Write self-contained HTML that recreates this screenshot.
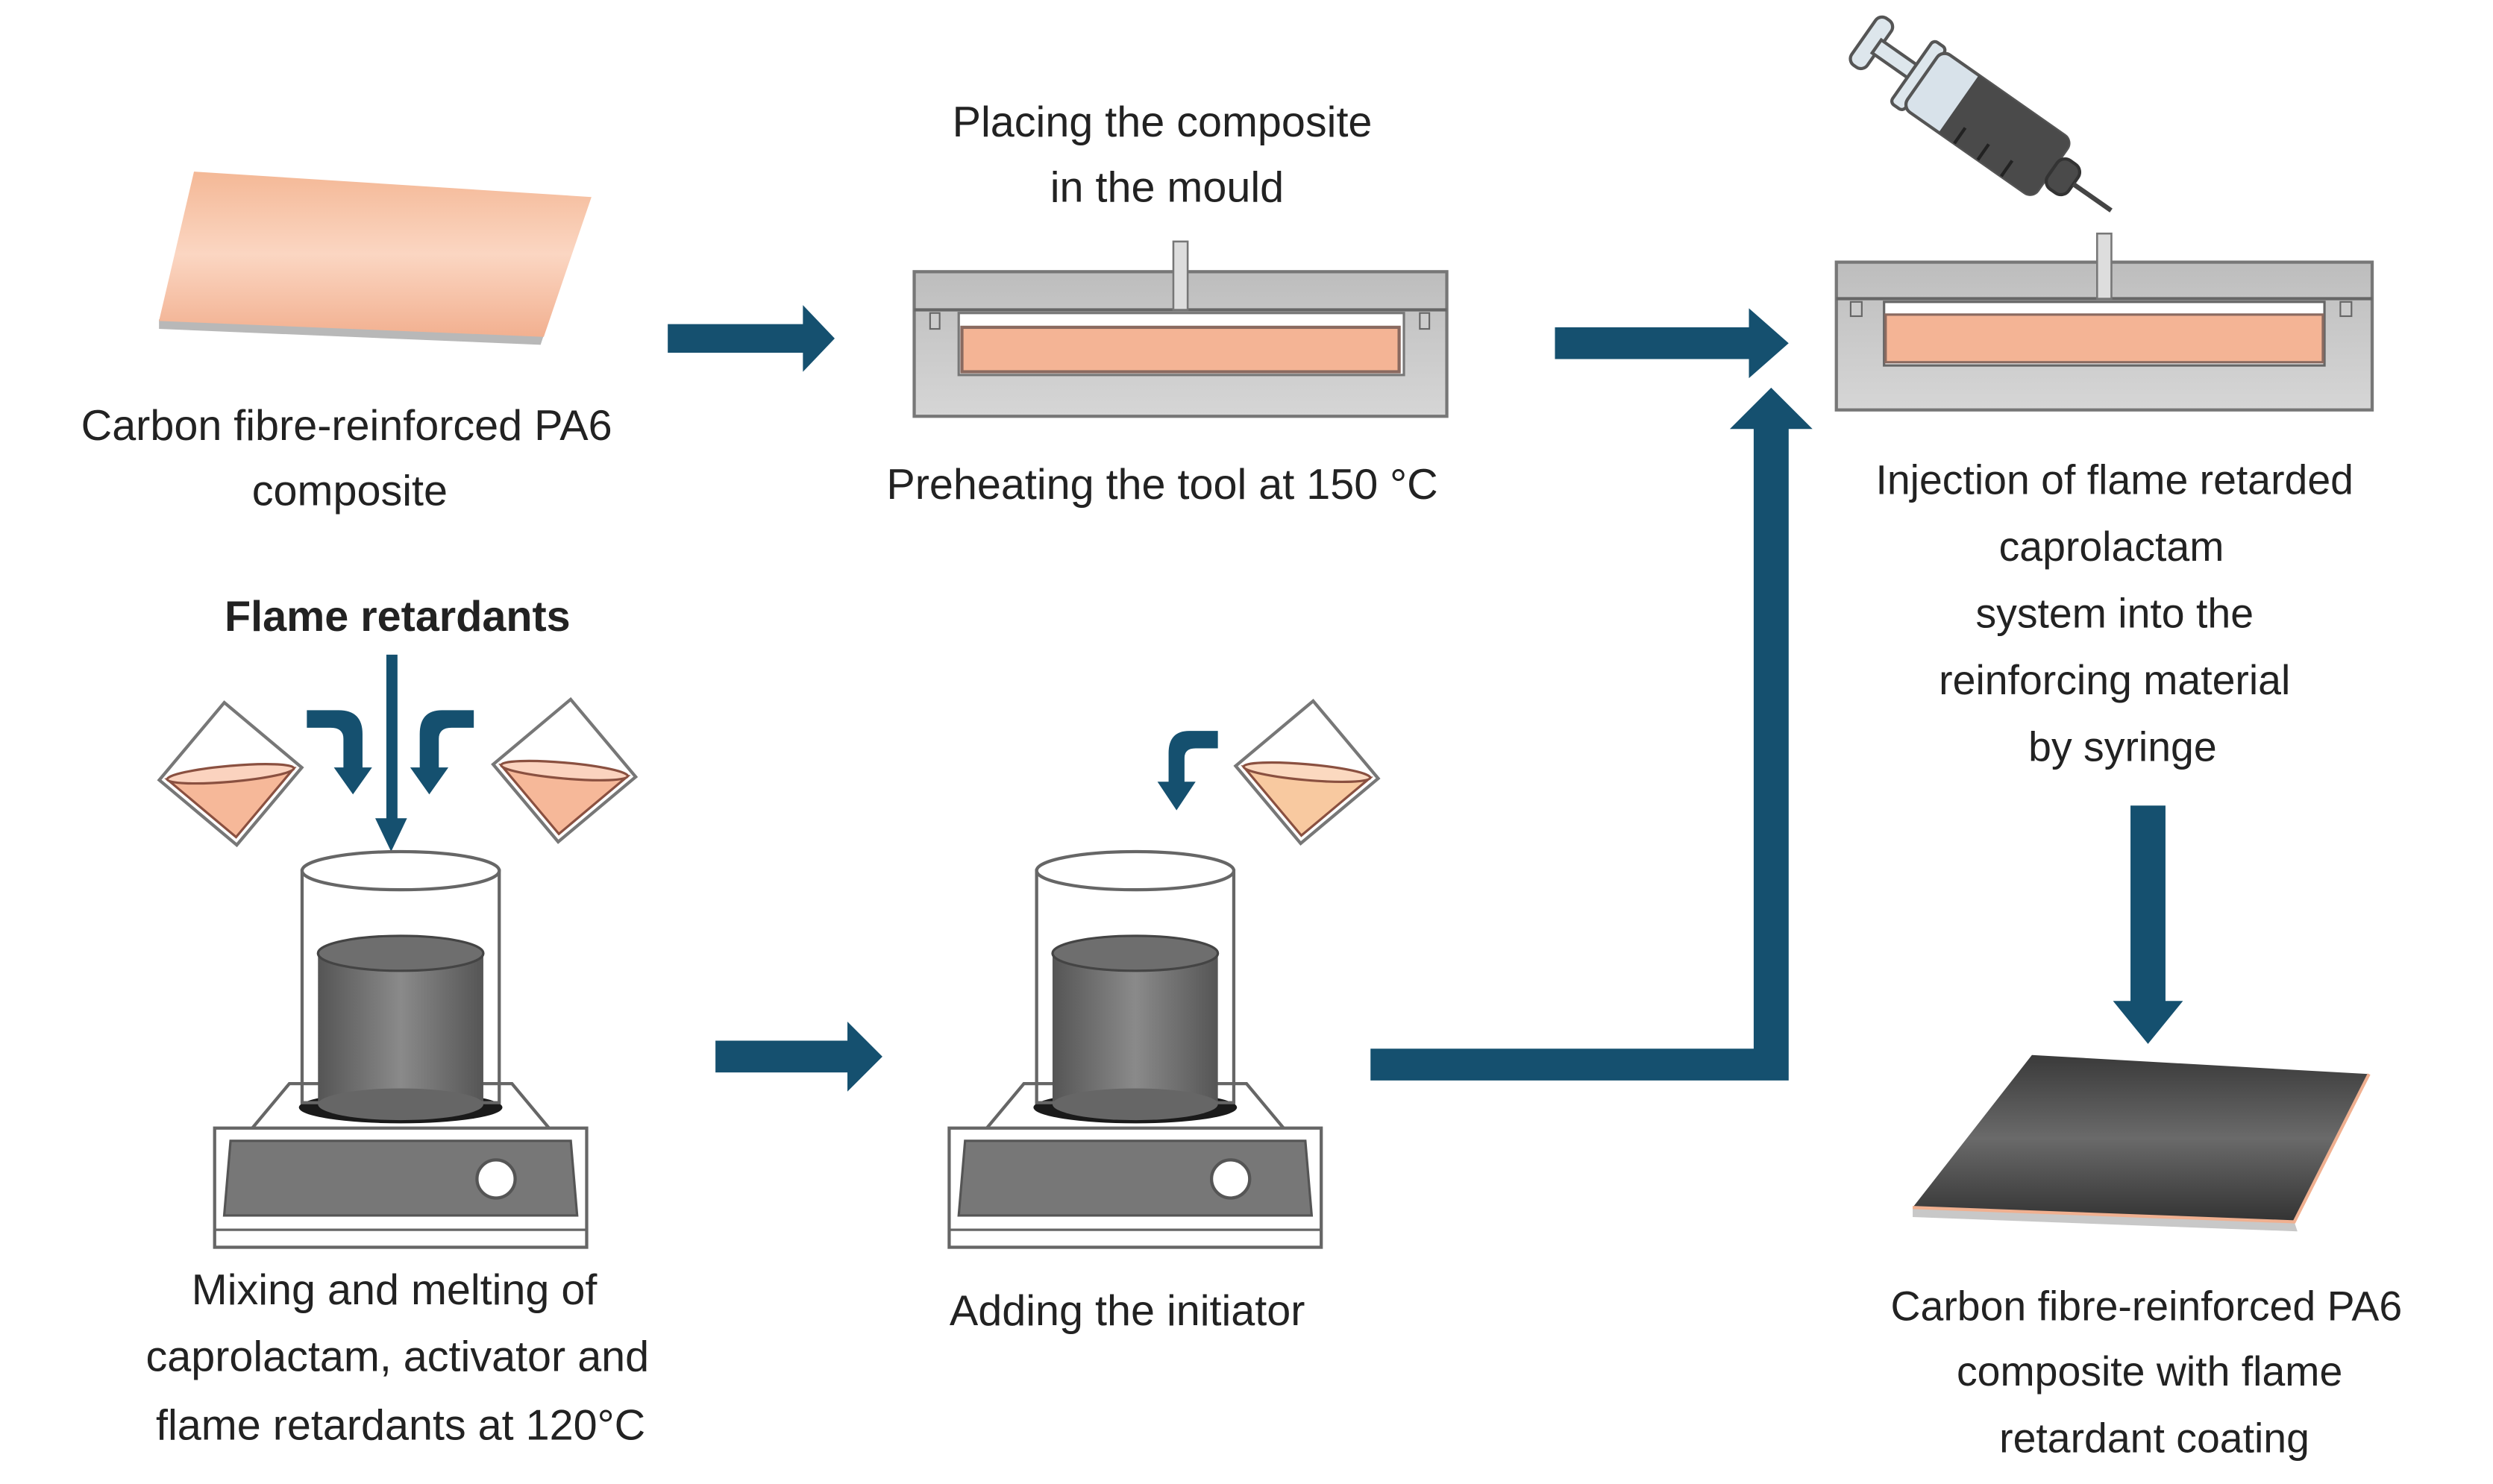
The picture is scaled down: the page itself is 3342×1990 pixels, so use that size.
<!DOCTYPE html>
<html><head><meta charset="utf-8"><style>
html,body{margin:0;padding:0;background:#fff;}
svg{display:block;}
text{font-family:"Liberation Sans",sans-serif;fill:#222;}
.n{font-size:27px;}
</style></head><body>
<svg width="3342" height="1990" viewBox="0 0 1568 934" preserveAspectRatio="none" xmlns="http://www.w3.org/2000/svg">
<defs>
<linearGradient id="pk" x1="0" y1="0" x2="0" y2="1">
<stop offset="0" stop-color="#f4b896"/><stop offset="0.5" stop-color="#fbd6c2"/><stop offset="1" stop-color="#f2b090"/></linearGradient>
<linearGradient id="cyl" x1="0" y1="0" x2="1" y2="0">
<stop offset="0" stop-color="#555"/><stop offset="0.5" stop-color="#8a8a8a"/><stop offset="1" stop-color="#555"/></linearGradient>
<linearGradient id="dk" x1="0" y1="0" x2="0" y2="1">
<stop offset="0" stop-color="#3a3a3a"/><stop offset="0.5" stop-color="#6a6a6a"/><stop offset="1" stop-color="#333"/></linearGradient>
<linearGradient id="mg" x1="0" y1="0" x2="0" y2="1">
<stop offset="0" stop-color="#bdbdbd"/><stop offset="1" stop-color="#d6d6d6"/></linearGradient>
<g id="flask">
<path d="M-45,0 L0,-45 L45,0 L0,45 Z" fill="#fff" stroke="#777" stroke-width="2"/>
<path d="M-40,0 L40,0 L0,40 Z" fill="#f6b899" stroke="#8a5040" stroke-width="1.5"/>
<ellipse cx="0" cy="0" rx="40" ry="5" fill="#fbd3bf" stroke="#8a5040" stroke-width="1.5"/>
</g>
<g id="plate">
<path d="M-95,122 L-70,92 L70,92 L95,122 Z" fill="#fff" stroke="#666" stroke-width="2"/>
<rect x="-117" y="120" width="234" height="75" fill="#fff" stroke="#666" stroke-width="2"/>
<path d="M-107,128 L107,128 L111,175 L-111,175 Z" fill="#777" stroke="#555" stroke-width="1.5"/>
<line x1="-117" y1="184" x2="117" y2="184" stroke="#666" stroke-width="1.5"/>
<circle cx="60" cy="152" r="12" fill="#fff" stroke="#555" stroke-width="2"/>
<ellipse cx="0" cy="107" rx="64" ry="10" fill="#1a1a1a"/>
<rect x="-52" y="10" width="104" height="95" fill="url(#cyl)"/>
<ellipse cx="0" cy="105" rx="52" ry="10" fill="#666"/>
<ellipse cx="0" cy="10" rx="52" ry="11" fill="#6e6e6e" stroke="#444" stroke-width="1.5"/>
<rect x="-62" y="-42" width="124" height="146" fill="none" stroke="#666" stroke-width="2"/>
<ellipse cx="0" cy="-42" rx="62" ry="12" fill="#fff" stroke="#666" stroke-width="2"/>
</g>
</defs>

<!-- pink plate -->
<path d="M100,207 L340,217 L342,211 L100,201 Z" fill="#b8b8b8"/>
<path d="M122,108 L372,124 L342,212 L100,202 Z" fill="url(#pk)"/>
<text class="n" x="218" y="277" text-anchor="middle">Carbon fibre-reinforced PA6</text>
<text class="n" x="220" y="318" text-anchor="middle">composite</text>

<!-- arrow 1 -->
<path d="M420,204 L505,204 L505,192 L525,213 L505,234 L505,222 L420,222 Z" fill="#15506f"/>

<!-- mould 1 -->
<text class="n" x="731" y="86" text-anchor="middle">Placing the composite</text>
<text class="n" x="734" y="127" text-anchor="middle">in the mould</text>
<rect x="575" y="171" width="335" height="91" fill="url(#mg)" stroke="#777" stroke-width="2"/>
<line x1="575" y1="195" x2="910" y2="195" stroke="#666" stroke-width="2"/>
<rect x="603" y="197" width="280" height="39" fill="#fff" stroke="#777" stroke-width="1.5"/>
<rect x="605" y="206" width="275" height="28" fill="#f4b495" stroke="#8a6a60" stroke-width="2"/>
<rect x="738" y="152" width="9" height="43" fill="#ddd" stroke="#777" stroke-width="1.2"/>
<rect x="585" y="197" width="6" height="10" fill="#ccc" stroke="#666"/><rect x="893" y="197" width="6" height="10" fill="#ccc" stroke="#666"/>
<text class="n" x="731" y="314" text-anchor="middle">Preheating the tool at 150 °C</text>

<!-- arrow 2 -->
<path d="M978,206 L1100,206 L1100,194 L1125,216 L1100,238 L1100,226 L978,226 Z" fill="#15506f"/>

<!-- mould 2 + syringe -->
<rect x="1155" y="165" width="337" height="93" fill="url(#mg)" stroke="#777" stroke-width="2"/>
<line x1="1155" y1="188" x2="1492" y2="188" stroke="#666" stroke-width="2"/>
<rect x="1185" y="190" width="277" height="40" fill="#fff" stroke="#666" stroke-width="1.5"/>
<rect x="1186" y="198" width="275" height="30" fill="#f4b495" stroke="#8a6a60" stroke-width="1.5"/>
<rect x="1319" y="147" width="9" height="41" fill="#ddd" stroke="#777" stroke-width="1.2"/>
<rect x="1164" y="190" width="7" height="9" fill="#ccc" stroke="#666"/><rect x="1472" y="190" width="7" height="9" fill="#ccc" stroke="#666"/>
<g transform="translate(1250,78) rotate(35)">
<rect x="-95" y="-18" width="12" height="36" rx="5" fill="#dde6ec" stroke="#555" stroke-width="2"/>
<rect x="-85" y="-5" width="30" height="10" fill="#dde6ec" stroke="#555" stroke-width="2"/>
<rect x="-58" y="-24" width="10" height="48" rx="3" fill="#dde6ec" stroke="#555" stroke-width="2"/>
<rect x="-50" y="-22" width="100" height="44" rx="6" fill="#d8e2ea" stroke="#555" stroke-width="2"/>
<path d="M-22,-22 L44,-22 Q50,-22 50,-16 L50,16 Q50,22 44,22 L-22,22 Z" fill="#4a4a4a"/>
<line x1="-10" y1="22" x2="-10" y2="10" stroke="#222" stroke-width="2"/><line x1="8" y1="22" x2="8" y2="10" stroke="#222" stroke-width="2"/><line x1="26" y1="22" x2="26" y2="10" stroke="#222" stroke-width="2"/>
<rect x="50" y="-11" width="16" height="22" rx="6" fill="#4a4a4a" stroke="#333" stroke-width="2"/>
<line x1="66" y1="0" x2="95" y2="0" stroke="#444" stroke-width="3"/>
</g>
<text x="1330" y="311" text-anchor="middle" style="font-size:26px">Injection of flame retarded</text>
<text x="1328" y="353" text-anchor="middle" style="font-size:26px">caprolactam</text>
<text x="1330" y="395" text-anchor="middle" style="font-size:26px">system into the</text>
<text x="1330" y="437" text-anchor="middle" style="font-size:26px">reinforcing material</text>
<text x="1335" y="479" text-anchor="middle" style="font-size:26px">by syringe</text>

<!-- down arrow right -->
<path d="M1340,507 L1362,507 L1362,630 L1373,630 L1351,657 L1329,630 L1340,630 Z" fill="#15506f"/>

<!-- dark plate -->
<path d="M1203,760 L1443,769 L1445,775 L1203,766 Z" fill="#c8c8c8"/>
<path d="M1278,664 L1490,676 L1443,769 L1203,760 Z" fill="url(#dk)"/>
<path d="M1203,760 L1443,769 L1490,676" fill="none" stroke="#f0b090" stroke-width="2"/>
<text x="1350" y="831" text-anchor="middle" style="font-size:26px">Carbon fibre-reinforced PA6</text>
<text x="1352" y="872" text-anchor="middle" style="font-size:26px">composite with flame</text>
<text x="1355" y="914" text-anchor="middle" style="font-size:26px">retardant coating</text>

<!-- bend arrow -->
<path d="M862,660 L1103,660 L1103,270 L1088,270 L1114,244 L1140,270 L1125,270 L1125,680 L862,680 Z" fill="#15506f"/>

<!-- flame retardants group -->
<text x="250" y="397" text-anchor="middle" style="font-size:27px;font-weight:bold">Flame retardants</text>
<path d="M243,412 L250,412 L250,515 L256,515 L246,536 L236,515 L243,515 Z" fill="#15506f"/>
<path d="M193,447 L213,447 Q228,447 228,462 L228,483 L234,483 L222,500 L210,483 L216,483 L216,465 Q216,458 208,458 L193,458 Z" fill="#15506f"/>
<path d="M298,447 L278,447 Q264,447 264,462 L264,483 L258,483 L270,500 L282,483 L276,483 L276,465 Q276,458 284,458 L298,458 Z" fill="#15506f"/>
<use href="#flask" transform="translate(145,487) rotate(-5)"/>
<use href="#flask" transform="translate(355,485) rotate(5)"/>
<use href="#plate" transform="translate(252,590)"/>
<text class="n" x="248" y="821" text-anchor="middle">Mixing and melting of</text>
<text class="n" x="250" y="863" text-anchor="middle">caprolactam, activator and</text>
<text class="n" x="252" y="906" text-anchor="middle">flame retardants at 120°C</text>

<!-- arrow 3 -->
<path d="M450,655 L533,655 L533,643 L555,665 L533,687 L533,675 L450,675 Z" fill="#15506f"/>

<!-- adding initiator -->
<path d="M766,460 L748,460 Q735,460 735,474 L735,492 L728,492 L740,510 L752,492 L745,492 L745,477 Q745,471 752,471 L766,471 Z" fill="#15506f"/>
<g transform="translate(822,486) rotate(5)">
<path d="M-45,0 L0,-45 L45,0 L0,45 Z" fill="#fff" stroke="#777" stroke-width="2"/>
<path d="M-40,0 L40,0 L0,40 Z" fill="#f8c9a0" stroke="#8a5040" stroke-width="1.5"/>
<ellipse cx="0" cy="0" rx="40" ry="5" fill="#fbd9c0" stroke="#8a5040" stroke-width="1.5"/>
</g>
<use href="#plate" transform="translate(714,590)"/>
<text class="n" x="709" y="834" text-anchor="middle">Adding the initiator</text>
</svg>
</body></html>
